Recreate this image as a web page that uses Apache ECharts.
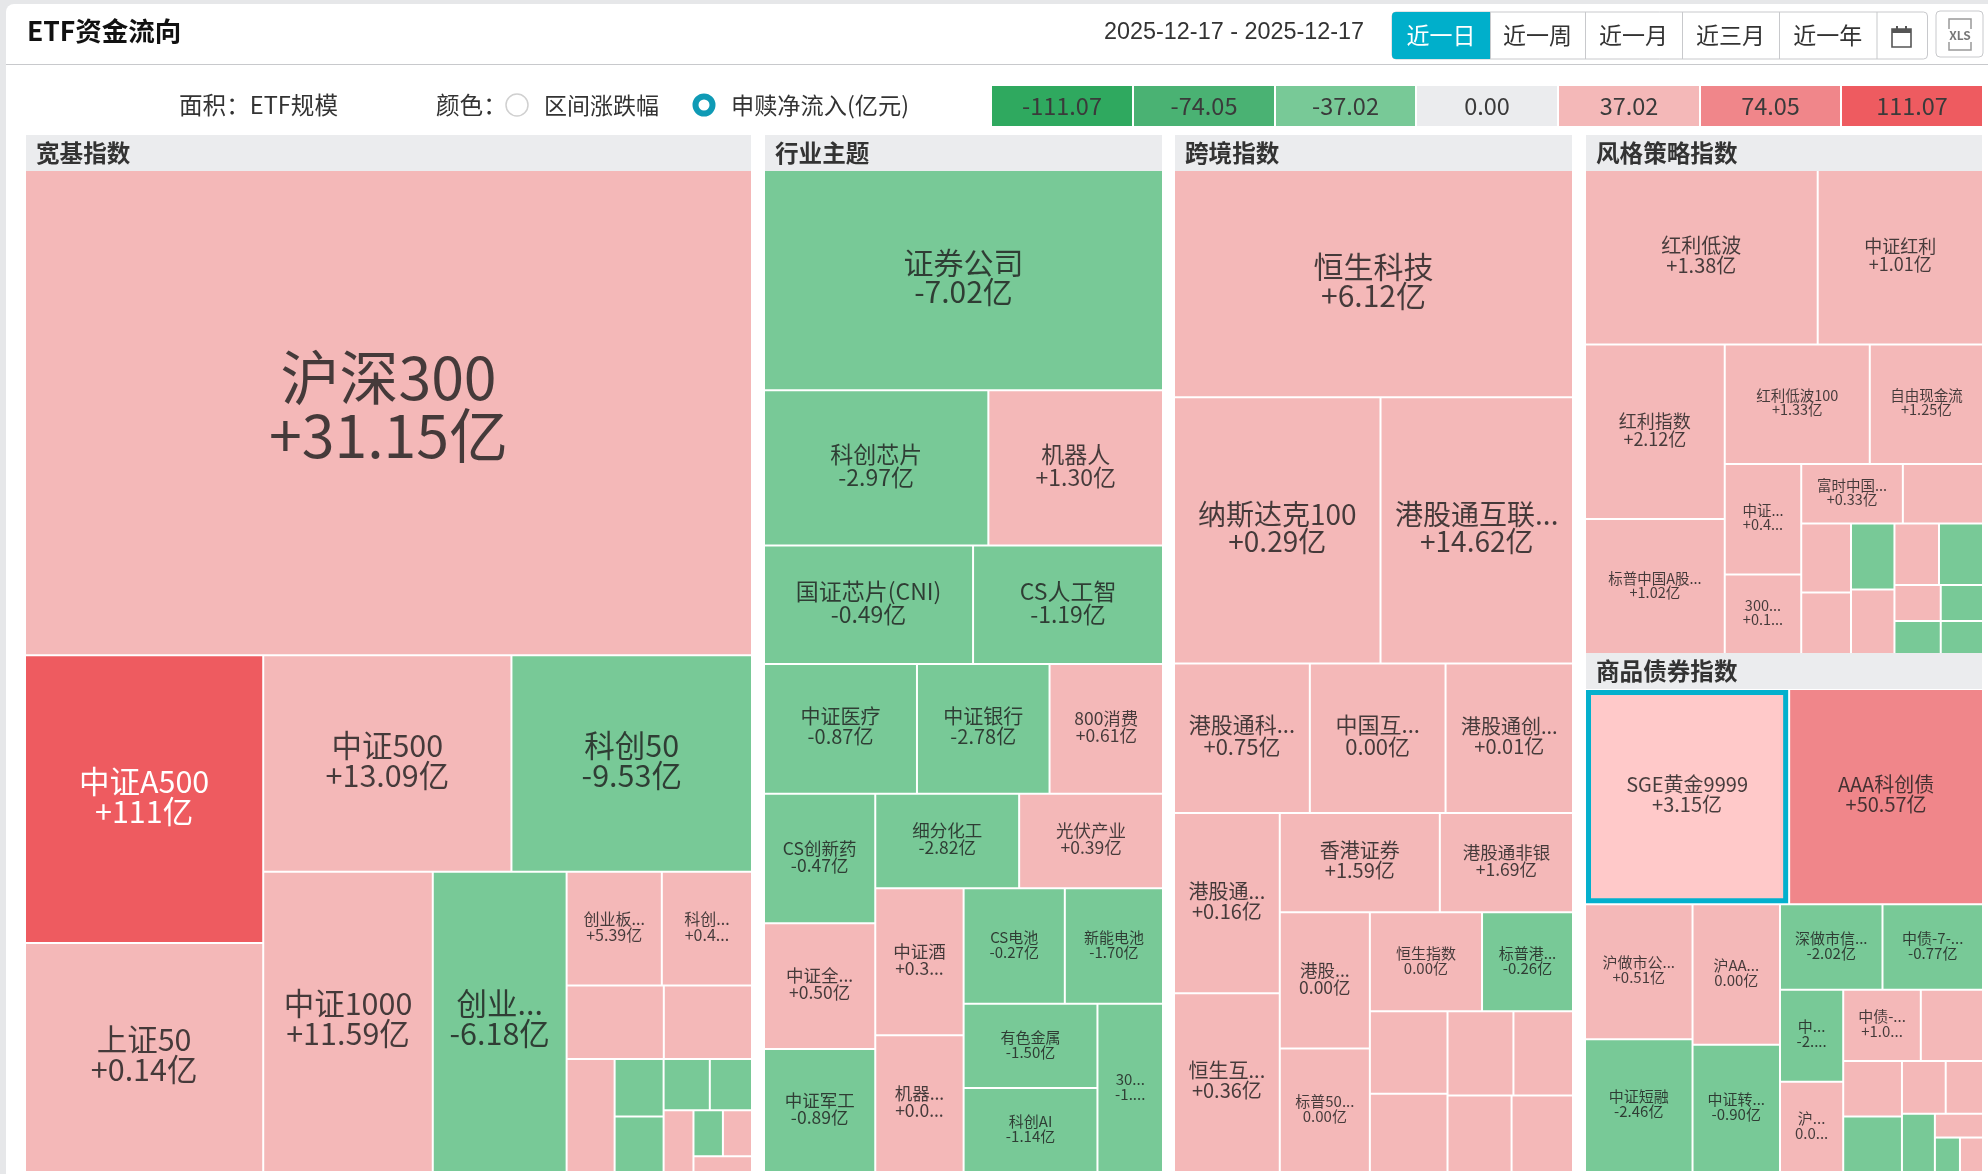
<!DOCTYPE html>
<html><head><meta charset="utf-8">
<style>html,body{margin:0;padding:0;background:#fff}#c{width:1988px;height:1174px}</style>
<script src="https://cdn.jsdelivr.net/npm/echarts@6/dist/echarts.min.js"></script>
</head><body><div id="c"></div>
<script>
// ---------- data: names, relative scale, net flow, displayed flow text ----------
const broadNames=['沪深300','中证A500','上证50','中证500','科创50','中证1000','创业...','创业板...','科创...','','','','','','','','','','',''];
const broadSizes=[217551,42262,33660,33150,32130,31388,24780,6677,6326,4404,3996,3344,1737,1676,1459,1332,1138,835,825,570];
const broadFlows=[31.15,111,0.14,13.09,-9.53,11.59,-6.18,5.39,0.4,0.3,0.2,0.1,-0.1,-0.1,-0.1,-0.1,0.1,-0.1,0.1,0.1];
const broadText=['+31.15亿','+111亿','+0.14亿','+13.09亿','-9.53亿','+11.59亿','-6.18亿','+5.39亿','+0.4...','','','','','','','','','','',''];

const sectorNames=['证券公司','科创芯片','机器人','国证芯片(CNI)','CS人工智','中证医疗','中证银行','800消费','CS创新药','中证全...','中证军工','细分化工','光伏产业','中证酒','机器...','CS电池','新能电池','有色金属','科创AI','30...'];
const sectorSizes=[54149,21472,16714,15252,13857,12240,10608,9078,8874,8613,8439,8362,8360,8004,7452,7215,6999,6950,6920,6792];
const sectorFlows=[-7.02,-2.97,1.30,-0.49,-1.19,-0.87,-2.78,0.61,-0.47,0.50,-0.89,-2.82,0.39,0.3,0.0,-0.27,-1.70,-1.50,-1.14,-1];
const sectorText=['-7.02亿','-2.97亿','+1.30亿','-0.49亿','-1.19亿','-0.87亿','-2.78亿','+0.61亿','-0.47亿','+0.50亿','-0.89亿','-2.82亿','+0.39亿','+0.3...','+0.0...','-0.27亿','-1.70亿','-1.50亿','-1.14亿','-1....'];

const crossNames=['恒生科技','纳斯达克100','港股通互联...','港股通科...','中国互...','港股通创...','港股通...','恒生互...','香港证券','港股通非银','港股...','标普50...','恒生指数','标普港...','','','','','',''];
const crossSizes=[56400,34182,31861,12630,12620,11850,11844,11760,9875,8216,7632,6912,6904,5598,3975,3784,3452,3119,3046,2921];
const crossFlows=[6.12,0.29,14.62,0.75,0,0.01,0.16,0.36,1.59,1.69,0,0,0,-0.26,0.1,0.1,0.1,0.1,0.1,0.1];
const crossText=['+6.12亿','+0.29亿','+14.62亿','+0.75亿','0.00亿','+0.01亿','+0.16亿','+0.36亿','+1.59亿','+1.69亿','0.00亿','0.00亿','0.00亿','-0.26亿','','','','','',''];

const styleNames=['红利低波','中证红利','红利指数','标普中国A股...','红利低波100','自由现金流','中证...','300...','富时中国...','','','','','','','','','','',''];
const styleSizes=[25071,17810,15070,11660,10716,8366,5220,3760,3740,2950,2120,1890,1768,1734,1690,1670,1030,944,940,862];
const styleFlows=[1.38,1.01,2.12,1.02,1.33,1.25,0.4,0.1,0.33,0.1,0.1,0.1,-0.1,0.1,0.1,-0.1,0.1,-0.1,-0.1,-0.1];
const styleText=['+1.38亿','+1.01亿','+2.12亿','+1.02亿','+1.33亿','+1.25亿','+0.4...','+0.1...','+0.33亿','','','','','','','','','','',''];

const bondNames=['SGE黄金9999','AAA科创债','沪做市公...','中证短融','沪AA...','中证转...','深做市信...','中债-7-...','中...','沪...','中债-...','','','','','','','','',''];
const bondSizes=[27700,26300,9136,9002,7745,7006,5510,5403,3673,3594,3493,2799,2055,2050,1450,1236,1211,725,544,500];
const bondFlows=[3.15,50.57,0.51,-2.46,0,-0.90,-2.02,-0.77,-2,0,1,0.1,0.1,-0.1,0.1,0.1,-0.1,0.1,-0.1,0.1];
const bondText=['+3.15亿','+50.57亿','+0.51亿','-2.46亿','0.00亿','-0.90亿','-2.02亿','-0.77亿','-2....','0.0...','+1.0...','','','','','','','','',''];

const highlighted='SGE黄金9999';
const panelTitles=['宽基指数','行业主题','跨境指数','风格策略指数','商品债券指数'];
const legendValues=['-111.07','-74.05','-37.02','0.00','37.02','74.05','111.07'];
const periodLabels=['近一日','近一周','近一月','近三月','近一年'];
const dateRange='2025-12-17 - 2025-12-17';

// ---------- styling ----------
const CJK='"Noto Sans CJK SC","Noto Sans",sans-serif';
const legendColors=['#2fa95f','#4ab273','#78c997','#ebecee','#f4b8b8','#f0868a','#ee5b60'];
const legendX=[[992,1132],[1134,1274],[1276,1415],[1417,1557],[1559,1699],[1701,1840],[1842,1982]];
function flowColor(f){
  if(f>=100) return legendColors[6];
  if(f>=37.02) return legendColors[5];
  if(f>=0) return legendColors[4];
  return legendColors[2];
}
function fontFor(area,steps){ for(const s of steps){ if(area>=s[0]) return s[1]; } return 14; }
function nodes(names,sizes,flows,texts,steps){
  return names.map((n,i)=>{
    const fs=fontFor(sizes[i],steps), f=flows[i], hl=n===highlighted;
    return {
      name:n?n+'\n'+texts[i]:'',
      value:sizes[i],
      itemStyle:hl?{color:'#ffc9c9',borderColor:'#04b0cd',borderWidth:5}:{color:flowColor(f)},
      label:{show:!!n,fontSize:fs,lineHeight:Math.round(fs*0.98),offset:[0,-fs*0.1],color:f>=100?'#fff':'rgba(30,30,30,.82)'}
    };
  });
}
function tm(name,l,t,w,h,data){
  return {type:'treemap',name,z:3,left:l,top:t,width:w,height:h,roam:false,nodeClick:false,squareRatio:0.8,
    breadcrumb:{show:false},silent:true,animation:false,visibleMin:0,childrenVisibleMin:0,
    itemStyle:{borderWidth:0,gapWidth:0,borderColor:'rgba(255,255,255,.7)'},
    levels:[{itemStyle:{borderWidth:0,gapWidth:2,borderColor:'rgba(255,255,255,.6)'}}],
    label:{show:true,position:'inside',overflow:'none',fontFamily:CJK,align:'center',verticalAlign:'middle'},
    data};
}
const panels=[[26,135,725,1036],[765,135,397,1036],[1175,135,397,1036],[1586,135,396,518],[1586,653,396,518]];
const series=[
  tm(panelTitles[0],26,171,725,1000,nodes(broadNames,broadSizes,broadFlows,broadText,[[100000,59],[20000,30.5],[0,16]])),
  tm(panelTitles[1],765,171,397,1000,nodes(sectorNames,sectorSizes,sectorFlows,sectorText,[[40000,30],[13500,23],[9500,20],[7400,17.5],[0,15]])),
  tm(panelTitles[2],1175,171,397,1000,nodes(crossNames,crossSizes,crossFlows,crossText,[[40000,30],[20000,28],[12400,22],[9000,20],[7500,17.5],[0,15]])),
  tm(panelTitles[3],1586,171,396,482,nodes(styleNames,styleSizes,styleFlows,styleText,[[20000,20],[12000,18],[0,14.5]])),
  tm(panelTitles[4],1586,690,396,481,nodes(bondNames,bondSizes,bondFlows,bondText,[[20000,20],[0,15]]))
];
// ---------- page furniture ----------
const g=[];
const txt=(x,y,t,size,o={})=>g.push({type:'text',x,y,z:5,style:Object.assign({text:t,fontSize:size,fontFamily:CJK,fill:'#333',textVerticalAlign:'middle',textAlign:'left'},o)});
const rect=(x,y,w,h,fill,o={})=>g.push({type:'rect',z:o.z||1,shape:{x,y,width:w,height:h,r:o.r||0},style:{fill,stroke:o.stroke,lineWidth:o.lw||0}});
rect(0,0,1988,4,'#e6e7e9');
rect(0,0,6,1174,'#e6e7e9');
rect(6,4,9,9,'#e6e7e9');
rect(6,4,18,18,'#fff',{r:[8,0,0,0],z:2});
txt(27,31,'ETF资金流向',26.5,{fontWeight:'bold',fill:'#111'});
rect(6,64,1982,1,'#c8c9cc');
txt(1104,33,dateRange,23.4,{fontFamily:'"Liberation Sans",Arial,sans-serif'});
const btnX=[1392,1490,1585,1682,1779,1876.5,1927.5];
rect(1392,12,535.5,47,'#fff',{r:4,stroke:'#c8c9cc',lw:1,z:2});
rect(1392,12,98,47,'#00afcb',{r:[4,0,0,4],z:3});
periodLabels.forEach((p,i)=>{
  txt((btnX[i]+btnX[i+1])/2,35,p,23,{textAlign:'center',fill:i===0?'#fff':'#333'});
  if(i>0) rect(btnX[i],12,1,47,'#c8c9cc',{z:3});
});
rect(1876.5,12,1,47,'#c8c9cc',{z:3});
// calendar icon
rect(1892,29,19,18,'#fff',{stroke:'#555',lw:1.6,z:4});
rect(1892,29,19,4,'#555',{z:4});
rect(1896,26,2,5,'#555',{z:4});rect(1905,26,2,5,'#555',{z:4});
// export button
rect(1936,11,47,46,'#fff',{r:4,stroke:'#c8c9cc',lw:1,z:2});
rect(1949,19,22,31,'#fff',{stroke:'#999',lw:1.5,z:3});
rect(1944,29,32,13,'#fff',{z:4});
txt(1960,35,'XLS',12,{textAlign:'center',fill:'#777',fontWeight:'bold'});
// controls row
txt(179,105,'面积：ETF规模',23.6);
txt(436,105,'颜色：',23.6);
g.push({type:'circle',z:3,shape:{cx:517,cy:105,r:11},style:{fill:'#fff',stroke:'#d0d0d0',lineWidth:1.5}});
txt(544,105,'区间涨跌幅',23);
g.push({type:'circle',z:3,shape:{cx:704,cy:105,r:8.5},style:{fill:'#fff',stroke:'#0f9ab5',lineWidth:6}});
txt(731,105,'申赎净流入(亿元)',23.2);
legendValues.forEach((v,i)=>{
  rect(legendX[i][0],86,legendX[i][1]-legendX[i][0],40,legendColors[i]);
  txt((legendX[i][0]+legendX[i][1])/2,106,v,23.5,{textAlign:'center',fill:'#3a3a3a'});
});
panels.forEach((p,i)=>{
  rect(p[0],p[1],p[2],36,'#ebecee');
  txt(p[0]+10,p[1]+18,panelTitles[i],23.6,{fontWeight:'bold'});
});
const chart=echarts.init(document.getElementById('c'),null,{width:1988,height:1174});
chart.setOption({animation:false,backgroundColor:'#fff',series,graphic:{elements:g}});
</script></body></html>
